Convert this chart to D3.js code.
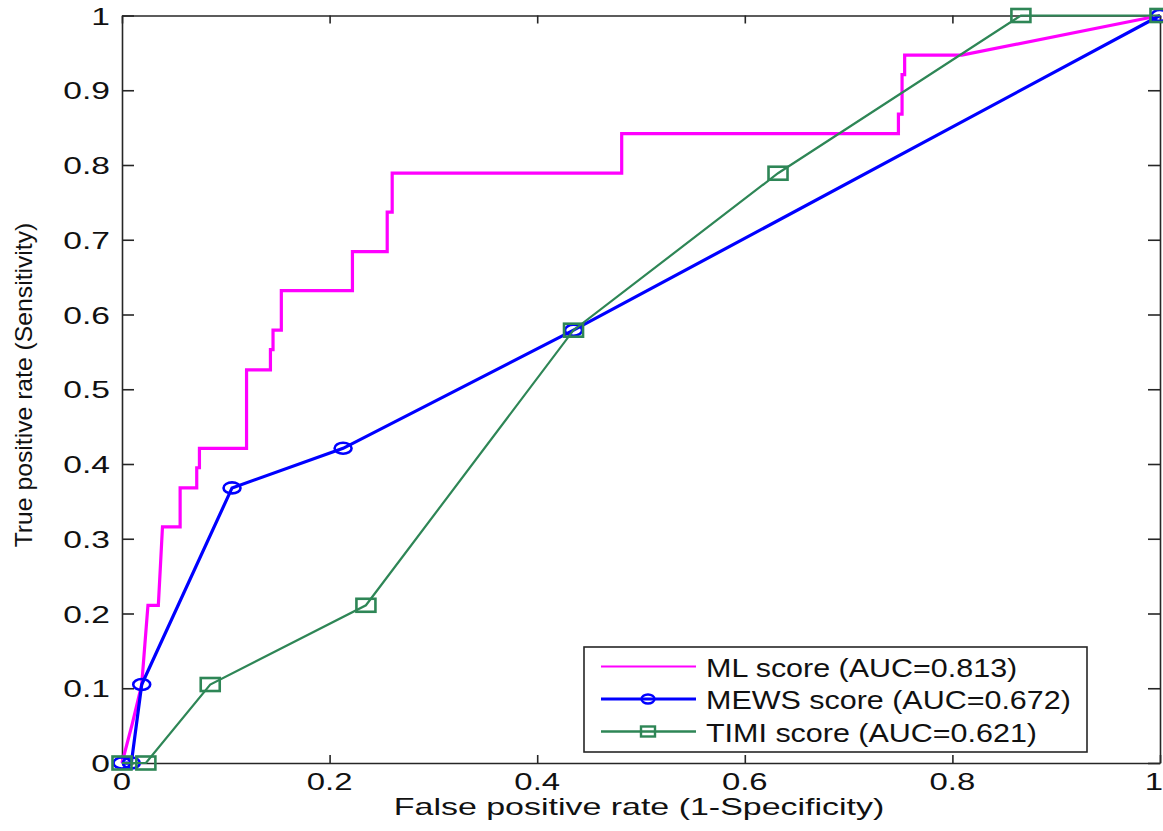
<!DOCTYPE html>
<html>
<head>
<meta charset="utf-8">
<script src="https://cdn.jsdelivr.net/npm/d3@7"></script>
<style>
  body { margin: 0; background: #fff; }
  text { font-family: "Liberation Sans", Arial, sans-serif; fill: #111; }
</style>
</head>
<body>
<div id="chart"></div>
<script>
// tick values
const xTicks = [0, 0.2, 0.4, 0.6, 0.8, 1];
const yTicks = [0, 0.1, 0.2, 0.3, 0.4, 0.5, 0.6, 0.7, 0.8, 0.9, 1];

// ML score ROC (step curve)
const mlFpr = [0, 0.010, 0.019, 0.022, 0.025, 0.035, 0.037, 0.039, 0.056, 0.056, 0.072, 0.072, 0.0746, 0.0746,
  0.120, 0.120, 0.143, 0.143, 0.1455, 0.1455, 0.1535, 0.1535, 0.222, 0.222, 0.2555, 0.2555, 0.2603, 0.2603,
  0.4814, 0.4814, 0.748, 0.748, 0.7515, 0.7515, 0.754, 0.754, 0.809, 1];
const mlTpr = [0, 0.053, 0.105, 0.158, 0.211, 0.211, 0.263, 0.316, 0.316, 0.368, 0.368, 0.395, 0.395, 0.421,
  0.421, 0.526, 0.526, 0.553, 0.553, 0.579, 0.579, 0.632, 0.632, 0.684, 0.684, 0.737, 0.737, 0.789,
  0.789, 0.842, 0.842, 0.868, 0.868, 0.921, 0.921, 0.947, 0.947, 1];

// MEWS score ROC
const mewsFpr = [0, 0.009, 0.019, 0.106, 0.213, 0.435, 1];
const mewsTpr = [0, 0, 0.105, 0.368, 0.421, 0.579, 1];

// TIMI score ROC
const timiFpr = [0, 0.023, 0.085, 0.235, 0.435, 0.632, 0.866, 1];
const timiTpr = [0, 0, 0.105, 0.211, 0.579, 0.789, 1, 1];

const seriesNames = ['ML score (AUC=0.813)', 'MEWS score (AUC=0.672)', 'TIMI score (AUC=0.621)'];

const width = 1163, height = 831;
const plotLeft = 122, plotRight = 1160, plotTop = 15.5, plotBottom = 763;

const pink = '#ff00ff', blue = '#0000ff', green = '#2e8656', axisColor = '#262626';

const svg = d3.select('#chart').append('svg')
  .attr('width', width)
  .attr('height', height);

const x = d3.scaleLinear().domain([0, 1]).range([plotLeft, plotRight]);
const y = d3.scaleLinear().domain([0, 1]).range([plotBottom, plotTop]);

// text drawn with a horizontal stretch, like the reference
function label(g, str, px, py, size, sx, anchor) {
  return g.append('text')
    .attr('transform', `translate(${px},${py}) scale(${sx},1)`)
    .attr('text-anchor', anchor)
    .style('font-size', size + 'px')
    .text(str);
}

// axes box + inward ticks on all sides
const axes = svg.append('g');
const fmt = d => String(d);

axes.append('g').attr('transform', `translate(0,${plotBottom})`)
  .call(d3.axisBottom(x).tickValues(xTicks).tickSizeInner(-8).tickSizeOuter(0).tickFormat(''));
axes.append('g').attr('transform', `translate(0,${plotTop})`)
  .call(d3.axisTop(x).tickValues(xTicks).tickSizeInner(-8).tickSizeOuter(0).tickFormat(''));
axes.append('g').attr('transform', `translate(${plotLeft},0)`)
  .call(d3.axisLeft(y).tickValues(yTicks).tickSizeInner(-12).tickSizeOuter(0).tickFormat(''));
axes.append('g').attr('transform', `translate(${plotRight},0)`)
  .call(d3.axisRight(y).tickValues(yTicks).tickSizeInner(-12).tickSizeOuter(0).tickFormat(''));
axes.selectAll('path, line').attr('stroke', axisColor).attr('stroke-width', 1.6);

// tick labels
const tickLabels = svg.append('g');
xTicks.forEach(t => label(tickLabels, fmt(t), Math.min(x(t), 1154), plotBottom + 27, 23.5, 1.4, 'middle'));
yTicks.forEach(t => label(tickLabels, fmt(t), plotLeft - 12, y(t) + 9, 24, 1.4, 'end'));

// axis titles
label(svg, 'False positive rate (1-Specificity)', (plotLeft + plotRight) / 2 - 2, 815, 24, 1.415, 'middle');
svg.append('text')
  .attr('transform', `translate(32,385) rotate(-90) scale(1.03,1)`)
  .attr('text-anchor', 'middle')
  .style('font-size', '24px')
  .text('True positive rate (Sensitivity)');

// curves
const line = d3.line().x(d => x(d[0])).y(d => y(d[1]));
const mlData = d3.zip(mlFpr, mlTpr);
const mewsData = d3.zip(mewsFpr, mewsTpr);
const timiData = d3.zip(timiFpr, timiTpr);

const plot = svg.append('g');

plot.append('path').datum(mlData)
  .attr('d', line).attr('fill', 'none')
  .attr('stroke', pink).attr('stroke-width', 3.2);

plot.append('path').datum(mewsData)
  .attr('d', line).attr('fill', 'none')
  .attr('stroke', blue).attr('stroke-width', 3.2);
plot.selectAll('.mews').data(mewsData).enter().append('ellipse')
  .attr('class', 'mews')
  .attr('cx', d => x(d[0])).attr('cy', d => y(d[1]))
  .attr('rx', 8.5).attr('ry', 5.5)
  .attr('fill', 'none').attr('stroke', blue).attr('stroke-width', 2.6);

plot.append('path').datum(timiData)
  .attr('d', line).attr('fill', 'none')
  .attr('stroke', green).attr('stroke-width', 2.2);
plot.selectAll('.timi').data(timiData).enter().append('rect')
  .attr('class', 'timi')
  .attr('x', d => x(d[0]) - 9.5).attr('y', d => y(d[1]) - 6.5)
  .attr('width', 19).attr('height', 13)
  .attr('fill', 'none').attr('stroke', green).attr('stroke-width', 2.6);

// legend
const legend = svg.append('g');
legend.append('rect')
  .attr('x', 584).attr('y', 647).attr('width', 503).attr('height', 105)
  .attr('fill', '#fff').attr('stroke', axisColor).attr('stroke-width', 1.6);

const legendColors = [pink, blue, green];
const legendWidths = [2.2, 3, 2.6];
seriesNames.forEach((name, i) => {
  const cy = 666.5 + i * 32.5;
  legend.append('line')
    .attr('x1', 601).attr('x2', 696).attr('y1', cy).attr('y2', cy)
    .attr('stroke', legendColors[i]).attr('stroke-width', legendWidths[i]);
  if (i === 1) {
    legend.append('ellipse').attr('cx', 648).attr('cy', cy).attr('rx', 6.5).attr('ry', 4.5)
      .attr('fill', 'none').attr('stroke', blue).attr('stroke-width', 2.4);
  }
  if (i === 2) {
    legend.append('rect').attr('x', 641).attr('y', cy - 5).attr('width', 14).attr('height', 10)
      .attr('fill', 'none').attr('stroke', green).attr('stroke-width', 2.4);
  }
  label(legend, name, 706, cy + 10, 26.5, 1.15, 'start');
});
</script>
</body>
</html>
